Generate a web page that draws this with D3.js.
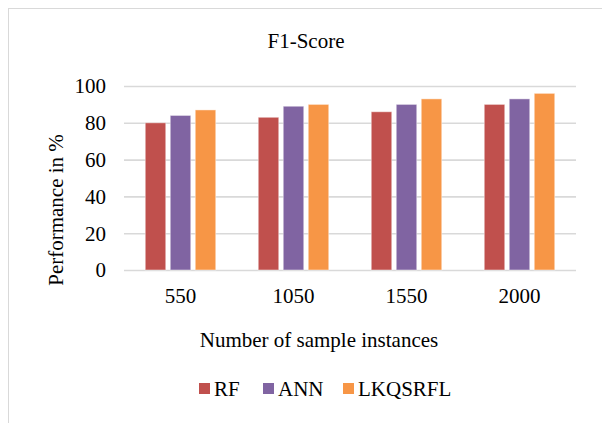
<!DOCTYPE html>
<html>
<head>
<meta charset="utf-8">
<script src="https://cdn.jsdelivr.net/npm/d3@7"></script>
<style>
  html, body { margin: 0; padding: 0; background: #fff; }
  svg { display: block; }
</style>
</head>
<body>
<svg id="chart" width="602" height="423"></svg>
<script>
const categories = ["550", "1050", "1550", "2000"];
const seriesNames = ["RF", "ANN", "LKQSRFL"];
const rfValues = [80, 83, 86, 90];
const annValues = [84, 89, 90, 93];
const lkqValues = [87, 90, 93, 96];
const yTicks = [0, 20, 40, 60, 80, 100];
const colors = ["#C0504D", "#8064A2", "#F79646"];

const seriesValues = [rfValues, annValues, lkqValues];
const svg = d3.select("#chart");
const FS = 21;
const FONT = "'Liberation Serif', Tinos, 'Times New Roman', Times, 'Nimbus Roman', 'DejaVu Serif', serif";

// chart border (right/bottom edges outside the picture)
svg.append("rect")
  .attr("x", 8.5).attr("y", 8.5)
  .attr("width", 640).attr("height", 460)
  .attr("fill", "none").attr("stroke", "#d9d9d9").attr("stroke-width", 1);

const plot = { left: 124, right: 576, top: 86, bottom: 270 };

const x0 = d3.scaleBand().domain(categories).range([plot.left, plot.right]).paddingInner(0).paddingOuter(0);
const x1 = d3.scaleBand().domain(seriesNames).range([0, x0.bandwidth()]).paddingInner(0.18).paddingOuter(0.85);
const y = d3.scaleLinear().domain([0, 100]).range([plot.bottom, plot.top]);

// gridlines
const yAxis = d3.axisLeft(y).tickValues(yTicks).tickSize(-(plot.right - plot.left)).tickPadding(18).tickFormat(d3.format("d"));
const gy = svg.append("g").attr("transform", `translate(${plot.left},0)`).call(yAxis);
gy.select(".domain").remove();
gy.selectAll(".tick line").attr("stroke", "#d9d9d9").attr("stroke-width", 1.6);
gy.selectAll(".tick text").style("font-size", FS + "px").style("font-family", FONT).attr("fill", "#000").attr("dy", "0.33em");

// bars
const groups = svg.append("g").selectAll("g").data(categories).join("g")
  .attr("transform", d => `translate(${x0(d)},0)`);
groups.selectAll("rect")
  .data((c, i) => seriesNames.map((s, j) => ({ s, j, v: seriesValues[j][i] })))
  .join("rect")
  .attr("x", d => x1(d.s))
  .attr("width", x1.bandwidth())
  .attr("y", d => y(d.v))
  .attr("height", d => y(0) - y(d.v))
  .attr("fill", d => colors[d.j])
  .attr("stroke", "#fff").attr("stroke-opacity", 0.45).attr("stroke-width", 1);

// x axis labels
const xAxis = d3.axisBottom(x0).tickSize(0).tickPadding(18);
const gx = svg.append("g").attr("transform", `translate(0,${plot.bottom})`).call(xAxis);
gx.select(".domain").remove();
gx.selectAll(".tick text").style("font-size", FS + "px").style("font-family", FONT).attr("fill", "#000").attr("dy", "0.71em");

function label(x, yy, txt, transform) {
  const t = svg.append("text").attr("text-anchor", "middle")
    .style("font-size", FS + "px").style("font-family", FONT).attr("fill", "#000").text(txt);
  if (transform) t.attr("transform", transform); else t.attr("x", x).attr("y", yy);
  return t;
}
// title
label(306, 48, "F1-Score");
// axis titles
label(319, 347, "Number of sample instances");
label(0, 0, "Performance in %", "translate(63,210) rotate(-90)");

// legend
const legendX = [199, 263, 343];
const lg = svg.append("g").selectAll("g").data(seriesNames).join("g")
  .attr("transform", (d, i) => `translate(${legendX[i]},383)`);
lg.append("rect").attr("width", 11).attr("height", 11).attr("fill", (d, i) => colors[i]);
lg.append("text").attr("x", 15).attr("y", 13).style("font-size", FS + "px").style("font-family", FONT).attr("fill", "#000").text(d => d);
</script>
</body>
</html>
